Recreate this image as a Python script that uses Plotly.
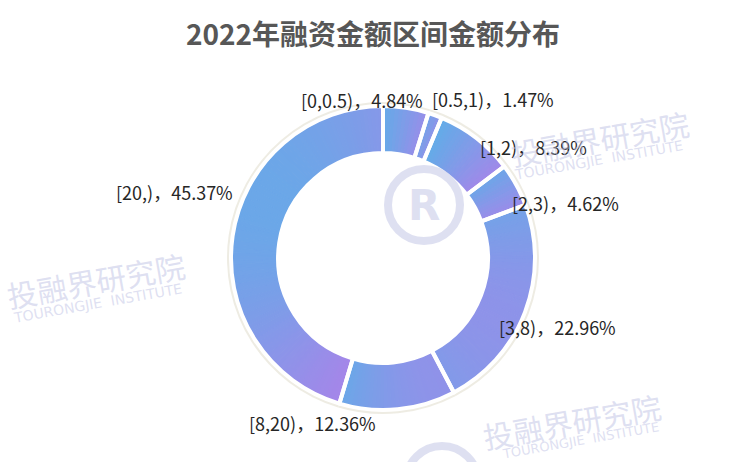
import math
import plotly.graph_objects as go

categories = ["[0,0.5)", "[0.5,1)", "[1,2)", "[2,3)", "[3,8)", "[8,20)", "[20,)"]
shares = [4.84, 1.47, 8.39, 4.62, 22.96, 12.36, 45.37]
labels = [f"{c}，{v:.2f}%" for c, v in zip(categories, shares)]

W, H = 750, 462
cx, cy, r = 383, 258, 152
HOLE = 0.69
C_START = (77, 184, 232)    # gradient start (top-left of each slice)
C_END = (182, 124, 233)     # gradient end (bottom-right of each slice)

# label layout: nudges (px) from the mid-angle anchor, and text side
label_nudge = [(16, 9), (-11, 0), (-9, 23), (-21, 26), (-44, 9), (-21, -3), (19, -41)]
label_anchor = ["right", "left", "left", "left", "left", "right", "right"]


def dom(rad):
    return dict(x=[(cx - rad) / W, (cx + rad) / W],
                y=[(H - cy - rad) / H, (H - cy + rad) / H])


def pt(theta, rad):
    return cx + rad * math.sin(theta), cy - rad * math.cos(theta)


# gradient rendering: each slice is painted as thin wedges whose colour follows a
# diagonal linear gradient across that slice's bounding box
total = sum(shares)
grad_vals, grad_cols = [], []
acc = 0.0
rin, rmid = r * HOLE, r * (1 + HOLE) / 2
for v in shares:
    a0 = acc / total * 2 * math.pi
    a1 = (acc + v) / total * 2 * math.pi
    acc += v
    samples = [pt(a0 + (a1 - a0) * k / 60, rr) for k in range(61) for rr in (r, rin)]
    xs = [p[0] for p in samples]
    ys = [p[1] for p in samples]
    x0, x1, y0, y1 = min(xs), max(xs), min(ys), max(ys)
    n = max(3, int(math.degrees(a1 - a0) / 1.5))
    for k in range(n):
        th = a0 + (a1 - a0) * (k + 0.5) / n
        px, py = pt(th, rmid)
        t = ((px - x0) / max(x1 - x0, 1) + (py - y0) / max(y1 - y0, 1)) / 2
        t = min(max(t, 0), 1)
        c = tuple(round(s + (e - s) * t) for s, e in zip(C_START, C_END))
        grad_vals.append(v / n)
        grad_cols.append("rgb(%d,%d,%d)" % c)

fig = go.Figure()
# soft shadow ring behind the donut
fig.add_trace(go.Pie(
    values=shares, labels=categories, sort=False, direction="clockwise", rotation=0,
    hole=HOLE * r / (r + 4), domain=dom(r + 4), textinfo="none", hoverinfo="skip",
    marker=dict(colors=["rgba(226,223,208,0.6)"] * len(shares), line=dict(width=0)),
    showlegend=False,
))
fig.add_trace(go.Pie(
    values=grad_vals, sort=False, direction="clockwise", rotation=0, hole=HOLE,
    domain=dom(r), textinfo="none", hoverinfo="skip",
    marker=dict(colors=grad_cols, line=dict(color=grad_cols, width=1)),
    showlegend=False,
))
# the data slices: transparent fill with white separators
fig.add_trace(go.Pie(
    values=shares, labels=categories, sort=False, direction="clockwise",
    rotation=0, hole=HOLE, domain=dom(r), textinfo="none",
    marker=dict(colors=["rgba(0,0,0,0)"] * len(shares), line=dict(color="white", width=4)),
    showlegend=False,
))
# invisible trace to set up the pixel-space axes used for labels
fig.add_trace(go.Scatter(x=[0, W], y=[0, H], mode="markers", marker=dict(opacity=0),
                         hoverinfo="skip", showlegend=False))

annotations = []
acc = 0.0
rl = r + 17
for v, txt, (dx, dy), anc in zip(shares, labels, label_nudge, label_anchor):
    mid = (acc + v / 2) / total * 2 * math.pi
    acc += v
    lx, ly = pt(mid, rl)
    annotations.append(dict(
        text=txt, x=lx + dx, y=ly + dy,
        xref="x", yref="y", showarrow=False, xanchor=anc, yanchor="middle",
        font=dict(family="Noto Sans CJK SC", size=18, color="#262626"),
    ))

wm = "rgba(190,193,228,0.5)"
annotations.append(
    dict(text="<b>2022年融资金额区间金额分布</b>", x=373 / W, y=1 - 33 / H, xref="paper", yref="paper",
         showarrow=False, font=dict(family="Noto Sans CJK SC", size=28, color="#575757"),
         xanchor="center", yanchor="middle"))
for (x, y, ex, ey, es) in [(600, 138, 598, 160, 14), (96, 280, 98, 303, 14),
                           (572, 421, 580, 440, 13)]:
    annotations.append(dict(text="投融界研究院", x=x / W, y=1 - y / H, xref="paper", yref="paper",
                            showarrow=False, textangle=-10, xanchor="center", yanchor="middle",
                            font=dict(family="Noto Sans CJK SC", size=30, color=wm)))
    annotations.append(dict(text="TOURONGJIE  INSTITUTE", x=ex / W, y=1 - ey / H,
                            xref="paper", yref="paper", showarrow=False, textangle=-10,
                            xanchor="center", yanchor="middle",
                            font=dict(family="DejaVu Sans", size=es, color=wm)))
annotations.append(dict(text="<b>R</b>", x=424 / W, y=1 - 205 / H, xref="paper", yref="paper",
                        showarrow=False, xanchor="center", yanchor="middle",
                        font=dict(family="DejaVu Sans", size=42, color=wm)))

shapes = []
for (x, y) in [(424, 205), (442, 482)]:
    shapes.append(dict(type="circle", xref="paper", yref="paper",
                       x0=(x - 36) / W, x1=(x + 36) / W, y0=1 - (y + 36) / H, y1=1 - (y - 36) / H,
                       line=dict(color=wm, width=8), layer="above"))

fig.update_layout(
    width=W, height=H, margin=dict(l=0, r=0, t=0, b=0),
    paper_bgcolor="white", plot_bgcolor="rgba(0,0,0,0)",
    xaxis=dict(range=[0, W], visible=False, fixedrange=True, domain=[0, 1]),
    yaxis=dict(range=[H, 0], visible=False, fixedrange=True, domain=[0, 1]),
    annotations=annotations, shapes=shapes,
)
fig.write_html("out.html", config={"displayModeBar": False},
               post_script="document.body.style.margin='0';")
